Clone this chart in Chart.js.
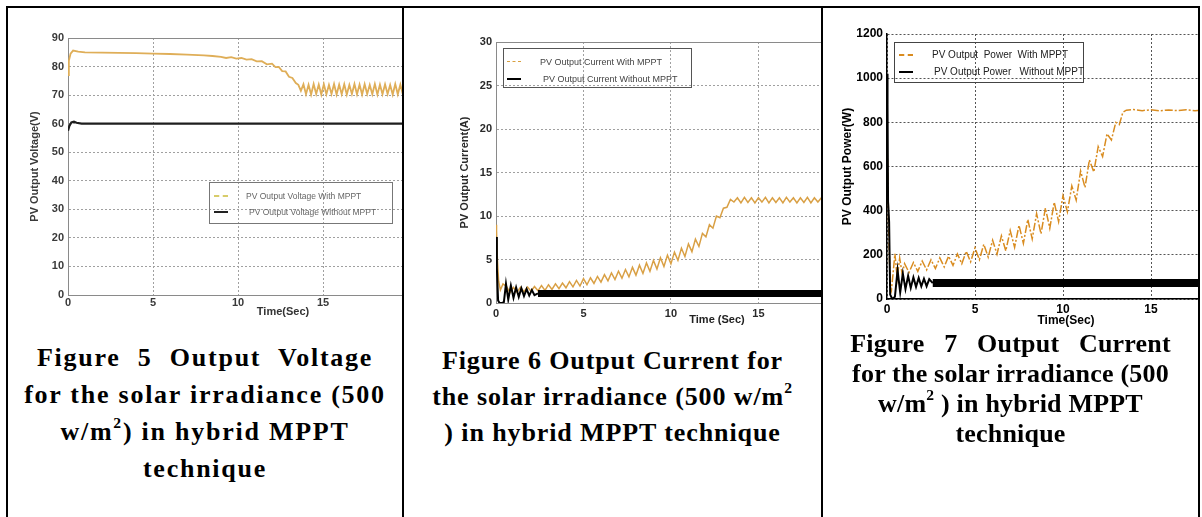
<!DOCTYPE html>
<html><head><meta charset="utf-8">
<script src="https://cdn.jsdelivr.net/npm/chart.js@4.4.0/dist/chart.umd.min.js"></script>
<style>
html,body{margin:0;padding:0;background:#fff}
body{width:1202px;height:517px;position:relative;overflow:hidden;font-family:"Liberation Sans",Arial,sans-serif}
.ln{position:absolute;background:#000;z-index:5}
.cell{position:absolute;top:0;height:517px;overflow:hidden}
.cv{position:absolute}
.lg{position:absolute;border:1px solid #666;box-sizing:border-box}
.it{position:absolute;white-space:pre;transform:translateY(-50%);line-height:1}
.sw{position:absolute;height:0}
.xt{position:absolute;font-weight:bold;white-space:nowrap;transform:translate(-50%,-50%)}
.cap{position:absolute;left:0;right:0;text-align:center;font-family:"Liberation Serif","Times New Roman",serif;font-weight:bold;font-size:26px;color:#000;white-space:nowrap}
.cap sup{font-size:0.6em;line-height:0;vertical-align:0.75em}
</style></head>
<body>
<div class="cell" style="left:8px;width:394px">
  <canvas id="c1" class="cv" width="410" height="320" style="left:0;top:10px"></canvas>
  <div class="lg" style="left:201px;top:182px;width:184px;height:42px;border-color:#777">
    <div class="sw" style="left:4px;top:12px;width:14px;border-top:2px dashed #d8cc6a"></div>
    <div class="it" style="left:36px;top:13px;font-size:8.5px;color:#666">PV Output Voltage With MPPT</div>
    <div class="sw" style="left:4px;top:28px;width:14px;border-top:2px solid #222"></div>
    <div class="it" style="left:39px;top:29px;font-size:8.5px;color:#666">PV Output Voltage Without MPPT</div>
  </div>
  <div class="xt" style="left:275px;top:311px;font-size:11px;color:#333">Time(Sec)</div>
  <div class="cap" style="top:339px;line-height:37px;letter-spacing:1.75px"><span style="word-spacing:9px">Figure 5 Output Voltage</span><br>for the solar irradiance (500<br>w/m<sup>2</sup>) in hybrid MPPT<br>technique</div>
</div>
<div class="cell" style="left:404px;width:417px">
  <canvas id="c2" class="cv" width="416" height="320" style="left:36px;top:10px"></canvas>
  <div class="lg" style="left:99px;top:48px;width:189px;height:40px;border-color:#555">
    <div class="sw" style="left:3px;top:12px;width:14px;border-top:1px dashed #d9a040"></div>
    <div class="it" style="left:36px;top:13px;font-size:9px;color:#444">PV Output Current With MPPT</div>
    <div class="sw" style="left:3px;top:29px;width:14px;border-top:2px solid #000"></div>
    <div class="it" style="left:39px;top:30px;font-size:9px;color:#444">PV Output Current Without MPPT</div>
  </div>
  <div class="xt" style="left:313px;top:319px;font-size:11px;color:#222">Time (Sec)</div>
  <div class="cap" style="top:343px;line-height:36px;letter-spacing:0.9px">Figure 6 Output Current for<br>the solar irradiance (500 w/m<sup>2</sup><br>) in hybrid MPPT technique</div>
</div>
<div class="cell" style="left:823px;width:375px">
  <canvas id="c3" class="cv" width="424" height="320" style="left:2px;top:10px"></canvas>
  <div class="lg" style="left:71px;top:42px;width:190px;height:41px;border-color:#444">
    <div class="sw" style="left:4px;top:11px;width:14px;border-top:2px dashed #d98c20"></div>
    <div class="it" style="left:37px;top:12px;font-size:10px;color:#222">PV Output  Power  With MPPT</div>
    <div class="sw" style="left:4px;top:28px;width:14px;border-top:2px solid #000"></div>
    <div class="it" style="left:39px;top:29px;font-size:10px;color:#222">PV Output Power   Without MPPT</div>
  </div>
  <div class="xt" style="left:243px;top:320px;font-size:12px;color:#000">Time(Sec)</div>
  <div class="cap" style="top:329px;line-height:30px;letter-spacing:0.2px"><span style="word-spacing:13px">Figure 7 Output Current</span><br>for the solar irradiance (500<br>w/m<sup>2</sup> ) in hybrid MPPT<br>technique</div>
</div>
<div class="ln" style="left:6px;top:6px;width:1194px;height:2px"></div>
<div class="ln" style="left:6px;top:6px;width:2px;height:511px"></div>
<div class="ln" style="left:402px;top:6px;width:2px;height:511px"></div>
<div class="ln" style="left:821px;top:6px;width:2px;height:511px"></div>
<div class="ln" style="left:1198px;top:6px;width:2px;height:511px"></div>
<script>
// ---- Figure 5: PV output voltage (V) vs time (s) ----
const voltageWithMPPT = [[0,77],[0.05,82],[0.15,84.5],[0.3,85.6],[0.6,85.2],[1,85.0],[2,84.9],[3,84.8],[4,84.7],[5,84.5],
 [6,84.4],[7,84.2],[8,83.9],[8.5,83.7],[9,83.4],[9.3,83.0],[9.6,83.3],[9.9,82.8],[10.2,83.0],[10.5,82.4],
 [10.8,82.6],[11.1,81.8],[11.4,81.9],[11.7,80.8],[12,81.0],[12.2,79.8],[12.4,79.9],[12.6,78.4],[12.8,78.3],[13,76.4],
 [13.2,76.0],[13.4,74.2],[13.55,73.6],[13.7,71.5],
 [13.85,73.8],[14,70.3],[14.15,73.6],[14.3,70.2],[14.45,73.9],[14.6,70.4],[14.75,73.7],[14.9,70.2],[15.05,73.8],[15.2,70.3],
 [15.35,73.6],[15.5,70.4],[15.65,73.9],[15.8,70.2],[15.95,73.7],[16.1,70.3],[16.25,73.8],[16.4,70.2],[16.55,73.6],[16.7,70.4],
 [16.85,73.9],[17,70.3],[17.15,73.7],[17.3,70.2],[17.45,73.8],[17.6,70.4],[17.75,73.6],[17.9,70.3],[18.05,73.9],[18.2,70.2],
 [18.35,73.7],[18.5,70.3],[18.65,73.8],[18.8,70.4],[18.95,73.6],[19.1,70.2],[19.25,73.9],[19.4,70.3],[19.55,73.7],[19.7,70.2],
 [19.85,73.8],[20,70.4]];
const voltageWithoutMPPT = [[0,57.5],[0.08,59.2],[0.2,60.4],[0.35,60.7],[0.5,60.3],[0.8,60.0],[20,60.0]];
const voltageTicks = {min:0, max:90, step:10};

// ---- Figure 6: PV output current (A) vs time (s) ----
const currentWithMPPT = [[0,9.0],[0.03,8.3],[0.08,5],[0.15,2.5],[0.25,1.5],[0.4,2.2],
 [0.6,1.9],[0.8,1.2],[1,1.8],[1.2,1.25],[1.4,1.8],[1.6,1.3],[1.8,1.85],[2,1.35],[2.2,1.9],[2.4,1.4],
 [2.6,2.0],[2.8,1.45],[3,2.1],[3.2,1.55],[3.4,2.2],[3.6,1.65],[3.8,2.3],[4,1.75],[4.2,2.45],[4.4,1.85],
 [4.6,2.6],[4.8,1.95],[5,2.8],[5.2,2.1],[5.4,2.9],[5.6,2.25],[5.8,3.05],[6,2.4],[6.2,3.25],[6.4,2.55],
 [6.6,3.45],[6.8,2.7],[7,3.65],[7.2,2.85],[7.4,3.85],[7.6,3.0],[7.8,4.1],[8,3.2],[8.2,4.35],[8.4,3.4],
 [8.6,4.6],[8.8,3.65],[9,4.9],[9.2,3.9],[9.4,5.2],[9.6,4.2],[9.8,5.5],[10,4.5],[10.2,5.85],[10.4,4.9],
 [10.6,6.3],[10.8,5.35],[11,6.8],[11.2,5.9],[11.4,7.35],[11.6,6.5],[11.8,8.0],[12,7.6],[12.2,9.0],[12.4,8.6],
 [12.6,10.0],[12.8,9.8],[13,10.9],[13.2,11.0],[13.4,11.9],
 [13.6,11.6],[13.8,12.1],[14,11.5],[14.2,12.15],[14.4,11.55],[14.6,12.1],[14.8,11.5],[15,12.1],[15.2,11.6],[15.4,12.15],
 [15.6,11.5],[15.8,12.1],[16,11.55],[16.2,12.1],[16.4,11.5],[16.6,12.15],[16.8,11.6],[17,12.1],[17.2,11.5],[17.4,12.1],
 [17.6,11.55],[17.8,12.15],[18,11.5],[18.2,12.1],[18.4,11.6],[18.6,12.1],[18.8,11.5],[19,12.15],[19.2,11.55],[19.4,12.1],
 [19.6,11.5],[19.8,12.1],[20,11.6]];
const currentWithoutMPPT = [[0,7.6],[0.05,4.0],[0.12,0.3],[0.2,0],[0.35,0],[0.45,0.1],[0.57,2.2],[0.7,0.4],[0.85,2.0],[1,0.6],
 [1.15,1.8],[1.3,0.7],[1.45,1.7],[1.6,0.8],[1.75,1.6],[1.9,0.85],[2.05,1.5],[2.2,0.9],[2.4,1.1],[20,1.1]];
const currentTicks = {min:0, max:30, step:5};

// ---- Figure 7: PV output power (W) vs time (s) ----
const powerWithMPPT = [[0,700],[0.04,600],[0.1,300],[0.18,60],[0.25,40],[0.35,120],[0.45,205],[0.58,95],[0.72,185],[0.86,115],
 [1,160],[1.25,120],[1.5,165],[1.75,125],[2,172],[2.25,132],[2.5,178],[2.75,138],[3,186],[3.25,145],
 [3.5,194],[3.75,152],[4,204],[4.25,160],[4.5,216],[4.75,168],[5,232],[5.25,178],[5.5,248],[5.75,190],
 [6,266],[6.25,203],[6.5,286],[6.75,218],[7,310],[7.25,234],[7.5,334],[7.75,252],[8,360],[8.25,272],
 [8.5,386],[8.75,295],[9,412],[9.25,320],[9.5,438],[9.75,350],[10,468],[10.25,395],[10.5,512],[10.75,448],
 [11,580],[11.25,505],[11.5,630],[11.75,575],[12,690],[12.25,645],[12.5,748],[12.75,720],[13,800],[13.2,790],
 [13.4,845],[13.6,855],[14,858],[14.5,853],[15,857],[15.5,852],[16,856],[16.5,853],[17,857],[17.5,852],[18,856],[20,855]];
const powerWithoutMPPT = [[0,1020],[0.03,880],[0.06,440],[0.12,350],[0.18,20],[0.3,0],[0.45,10],[0.6,130],[0.75,30],[0.9,115],
 [1.05,45],[1.2,105],[1.35,50],[1.5,98],[1.65,55],[1.8,95],[1.95,57],[2.1,92],[2.25,58],[2.4,90],[2.6,72],[20,72]];
const powerTicks = {min:0, max:1200, step:200};
const timeTicks = {min:0, max:20, step:5};

const pts = a => a.map(p => ({x:p[0], y:p[1]}));
const plain = v => String(v);

function build(id, o) {
  const fam = '"Liberation Sans", Arial, sans-serif';
  const tickFont = {family:fam, size:o.fs, weight:'bold'};
  new Chart(document.getElementById(id), {
    type:'line',
    data:{datasets:o.datasets},
    options:{
      responsive:false, animation:false, events:[],
      layout:{padding:{left:0, top:o.padTop, right:10, bottom:0}},
      plugins:{legend:{display:false}, tooltip:{enabled:false}},
      elements:{point:{radius:0}, line:{tension:0}},
      scales:{
        x:{type:'linear', min:timeTicks.min, max:timeTicks.max,
           ticks:{stepSize:timeTicks.step, color:o.tc, font:tickFont, padding:o.xpad, maxRotation:0, autoSkip:false, callback:plain},
           grid:{color:o.gc, drawTicks:false, lineWidth:1},
           border:{display:true, color:o.bc, width:o.bw, dash:o.dash},
           afterFit(s){ s.height = o.xh; }},
        top:{type:'linear', position:'top', min:timeTicks.min, max:timeTicks.max,
           ticks:{display:false}, grid:{display:false, drawTicks:false},
           border:{display:o.topBorder, color:o.bc, width:1},
           afterFit(s){ s.height = 0; }},
        y:{type:'linear', min:o.yt.min, max:o.yt.max,
           ticks:{stepSize:o.yt.step, color:o.tc, font:tickFont, padding:4, autoSkip:false, callback:plain},
           grid:{color:o.gc, drawTicks:false, lineWidth:1},
           border:{display:true, color:o.bc, width:o.bw, dash:o.dash},
           title:{display:true, text:o.ytitle, color:o.tc, font:{family:fam, size:o.tfs, weight:'bold'}, padding:{top:o.tpad, bottom:0}},
           afterFit(s){ s.width = o.yw; }}
      }
    }
  });
}

build('c1', {
  fs:11, tc:'#3a3a3a', gc:'#a0a0a0', bc:'#8a8a8a', bw:1, dash:[2,2], xpad:1, xh:35, yw:60, padTop:28,
  topBorder:true, yt:voltageTicks, ytitle:'PV Output Voltage(V)', tfs:11, tpad:20,
  datasets:[
    {data:pts(voltageWithoutMPPT), borderColor:'#1e1e1e', borderWidth:2.2},
    {data:pts(voltageWithMPPT), borderColor:'#dfae58', borderWidth:1.8}
  ]
});
build('c2', {
  fs:11, tc:'#2a2a2a', gc:'#a0a0a0', bc:'#8a8a8a', bw:1, dash:[2,2], xpad:4, xh:27, yw:56, padTop:32,
  topBorder:true, yt:currentTicks, ytitle:'PV Output Current(A)', tfs:11, tpad:18,
  datasets:[
    {data:pts(currentWithoutMPPT), borderColor:'#000', borderWidth:2,
     segment:{borderWidth: c => c.p0.parsed.x >= 2.4 ? 7 : 2}},
    {data:pts(currentWithMPPT), borderColor:'#d9a045', borderWidth:1.5}
  ]
});
build('c3', {
  fs:12, tc:'#000', gc:'#555', bc:'#000', bw:1.5, dash:[2,2], xpad:3, xh:31, yw:62, padTop:24,
  topBorder:false, yt:powerTicks, ytitle:'PV Output Power(W)', tfs:12, tpad:15,
  datasets:[
    {data:pts(powerWithoutMPPT), borderColor:'#000', borderWidth:2,
     segment:{borderWidth: c => c.p0.parsed.x >= 2.6 ? 8 : 2}},
    {data:pts(powerWithMPPT), borderColor:'#d98c20', borderWidth:1.5, borderDash:[8,2,2,2]}
  ]
});
</script>
</body></html>
